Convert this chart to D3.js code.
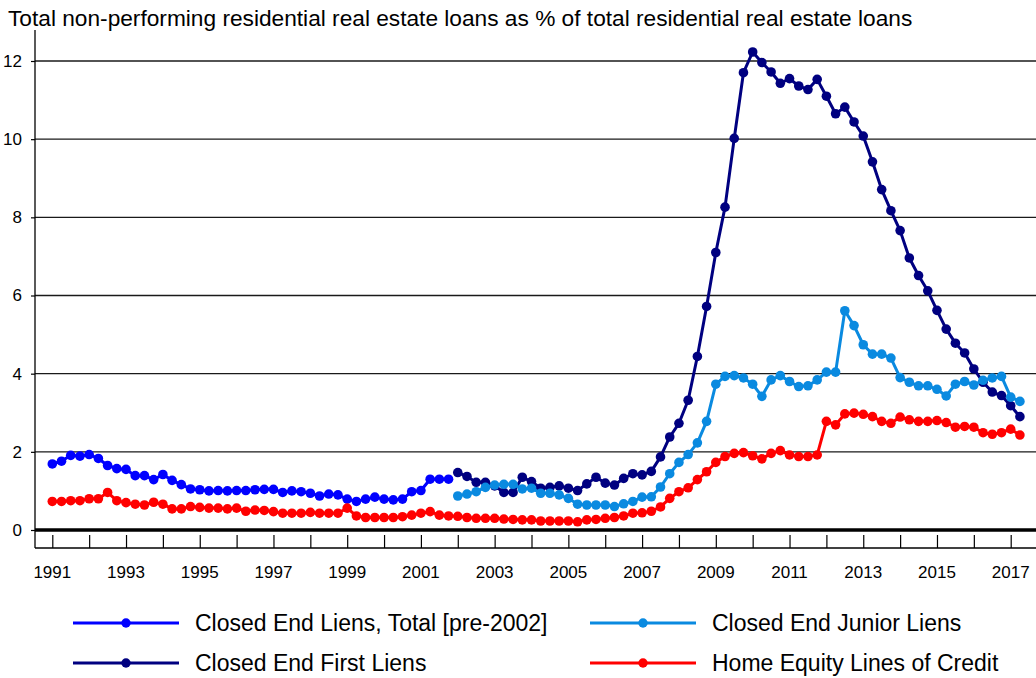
<!DOCTYPE html>
<html>
<head>
<meta charset="utf-8">
<script src="https://cdn.jsdelivr.net/npm/d3@7"></script>
<style>
  html, body { margin: 0; padding: 0; background: #fff; }
  svg { display: block; font-family: "Liberation Sans", Arial, Helvetica, sans-serif; }
</style>
</head>
<body>
<svg id="chart" width="1036" height="678"></svg>
<script>
// ---------- DATA (quarterly, % of total residential real estate loans) ----------
const titleText = "Total non-performing residential real estate loans as % of total residential real estate loans";

// Closed End Liens, Total [pre-2002]: 1991 Q1 .. 2001 Q4
const closedTotalStart = 1991;
const closedTotal = [
  1.69, 1.76, 1.91, 1.89,
  1.93, 1.83, 1.65, 1.57,
  1.55, 1.39, 1.39, 1.29,
  1.42, 1.27, 1.16, 1.05,
  1.03, 1.00, 1.01, 1.00,
  1.01, 1.01, 1.03, 1.04,
  1.04, 0.96, 1.00, 0.98,
  0.94, 0.87, 0.92, 0.90,
  0.79, 0.73, 0.79, 0.84,
  0.79, 0.77, 0.79, 0.98,
  1.01, 1.30, 1.30, 1.30
];

// Closed End First Liens: 2002 Q1 .. 2017 Q2
const firstLiensStart = 2002;
const firstLiens = [
  1.47, 1.37, 1.22, 1.22,
  1.13, 0.96, 0.96, 1.35,
  1.24, 1.07, 1.09, 1.13,
  1.07, 1.01, 1.18, 1.35,
  1.20, 1.15, 1.32, 1.44,
  1.41, 1.50, 1.87, 2.38,
  2.73, 3.32, 4.44, 5.72,
  7.10, 8.26, 10.02, 11.70,
  12.23, 11.96, 11.72, 11.43,
  11.55, 11.36, 11.27, 11.53,
  11.10, 10.65, 10.82, 10.44,
  10.08, 9.42, 8.71, 8.17,
  7.66, 6.96, 6.51, 6.12,
  5.62, 5.14, 4.78, 4.53,
  4.12, 3.78, 3.53, 3.44,
  3.18, 2.90
];

// Closed End Junior Liens: 2002 Q1 .. 2017 Q2
const juniorLiensStart = 2002;
const juniorLiens = [
  0.87, 0.92, 0.98, 1.09,
  1.15, 1.17, 1.17, 1.05,
  1.07, 0.94, 0.94, 0.90,
  0.81, 0.66, 0.64, 0.64,
  0.64, 0.60, 0.67, 0.73,
  0.84, 0.85, 1.10, 1.44,
  1.73, 1.93, 2.23, 2.78,
  3.73, 3.93, 3.95, 3.89,
  3.73, 3.42, 3.84, 3.95,
  3.80, 3.67, 3.69, 3.84,
  4.04, 4.04, 5.61, 5.23,
  4.74, 4.50, 4.50, 4.40,
  3.90, 3.78, 3.69, 3.69,
  3.60, 3.43, 3.73, 3.80,
  3.71, 3.83, 3.89, 3.93,
  3.40, 3.29
];

// Home Equity Lines of Credit: 1991 Q1 .. 2017 Q2
const helocStart = 1991;
const heloc = [
  0.73, 0.73, 0.75, 0.75,
  0.80, 0.80, 0.96, 0.75,
  0.70, 0.66, 0.64, 0.71,
  0.66, 0.54, 0.54, 0.60,
  0.58, 0.56, 0.56, 0.54,
  0.56, 0.48, 0.51, 0.50,
  0.47, 0.43, 0.43, 0.43,
  0.45, 0.43, 0.43, 0.43,
  0.56, 0.36, 0.32, 0.32,
  0.32, 0.32, 0.34, 0.38,
  0.43, 0.47, 0.38, 0.36,
  0.35, 0.32, 0.30, 0.30,
  0.30, 0.28, 0.27, 0.26,
  0.26, 0.23, 0.23, 0.23,
  0.23, 0.21, 0.26, 0.27,
  0.30, 0.32, 0.36, 0.43,
  0.44, 0.48, 0.59, 0.81,
  0.98, 1.08, 1.29, 1.49,
  1.73, 1.88, 1.96, 1.98,
  1.90, 1.82, 1.96, 2.03,
  1.92, 1.88, 1.88, 1.92,
  2.78, 2.69, 2.97, 2.99,
  2.96, 2.90, 2.78, 2.73,
  2.89, 2.82, 2.78, 2.78,
  2.80, 2.75, 2.63, 2.65,
  2.63, 2.49, 2.45, 2.49,
  2.58, 2.43
];

const seriesNames = [
  "Closed End Liens, Total [pre-2002]",
  "Closed End First Liens",
  "Closed End Junior Liens",
  "Home Equity Lines of Credit"
];
const seriesColors = ["#0000ff", "#000080", "#0a8ae0", "#ff0000"];

const yTicks = [0, 2, 4, 6, 8, 10, 12];
const xTickYears = d3.range(1991, 2018);
const xLabelYears = [1991, 1993, 1995, 1997, 1999, 2001, 2003, 2005, 2007, 2009, 2011, 2013, 2015, 2017];

// ---------- BUILD ----------
function toPoints(start, values) {
  return values.map((v, i) => ({ t: start + i / 4, v: v }));
}
const series = [
  { name: seriesNames[0], color: seriesColors[0], pts: toPoints(closedTotalStart, closedTotal) },
  { name: seriesNames[1], color: seriesColors[1], pts: toPoints(firstLiensStart, firstLiens) },
  { name: seriesNames[2], color: seriesColors[2], pts: toPoints(juniorLiensStart, juniorLiens) },
  { name: seriesNames[3], color: seriesColors[3], pts: toPoints(helocStart, heloc) }
];

const W = 1036, H = 678;
const axisX = 35, axisTop = 30, axisBottom = 548, rightEdge = W;

const x = d3.scaleLinear().domain([1991, 2017]).range([52.3, 1010.7]);
const y = d3.scaleLinear().domain([0, 12]).range([530, 61]);

const svg = d3.select("#chart");

// Title
svg.append("text")
  .attr("x", 8).attr("y", 26)
  .attr("font-size", 22.7)
  .attr("fill", "#000")
  .text(titleText);

// Gridlines (non-zero)
svg.append("g").selectAll("line")
  .data(yTicks.filter(d => d !== 0))
  .join("line")
  .attr("x1", axisX).attr("x2", rightEdge)
  .attr("y1", d => y(d)).attr("y2", d => y(d))
  .attr("stroke", "#1a1a1a").attr("stroke-width", 1.3);

// Y axis via d3.axisLeft
const yAxis = d3.axisLeft(y).tickValues(yTicks).tickSize(4).tickPadding(9).tickFormat(d3.format("d"));
const gy = svg.append("g").attr("transform", `translate(${axisX},0)`).call(yAxis);
gy.select(".domain").remove();
gy.selectAll(".tick line").attr("stroke", "#000").attr("stroke-width", 1.2);
gy.selectAll(".tick text").attr("font-size", 17).attr("fill", "#000")
  .attr("font-family", "Liberation Sans, Arial, sans-serif");
svg.append("line")
  .attr("x1", axisX).attr("x2", axisX).attr("y1", axisTop).attr("y2", axisBottom)
  .attr("stroke", "#000").attr("stroke-width", 1.3);

// X axis: bottom line with ticks pointing up
const xAxis = d3.axisTop(x).tickValues(xTickYears).tickSize(13).tickFormat("");
const gx = svg.append("g").attr("transform", `translate(0,${axisBottom})`).call(xAxis);
gx.select(".domain").remove();
gx.selectAll(".tick line").attr("stroke", "#000").attr("stroke-width", 1.2);
svg.append("line")
  .attr("x1", axisX).attr("x2", rightEdge).attr("y1", axisBottom).attr("y2", axisBottom)
  .attr("stroke", "#000").attr("stroke-width", 1.3);

svg.append("g").selectAll("text")
  .data(xLabelYears)
  .join("text")
  .attr("x", d => x(d)).attr("y", 578)
  .attr("text-anchor", "middle")
  .attr("font-size", 17).attr("fill", "#000")
  .text(d => d);

// Zero line (thick)
svg.append("line")
  .attr("x1", axisX).attr("x2", rightEdge).attr("y1", y(0)).attr("y2", y(0))
  .attr("stroke", "#000").attr("stroke-width", 3.5);

// Series
const line = d3.line().x(d => x(d.t)).y(d => y(d.v));
const gS = svg.append("g");
series.forEach(s => {
  const g = gS.append("g");
  g.append("path").datum(s.pts)
    .attr("d", line).attr("fill", "none")
    .attr("stroke", s.color).attr("stroke-width", 3).attr("stroke-linejoin", "round");
  g.selectAll("circle").data(s.pts).join("circle")
    .attr("cx", d => x(d.t)).attr("cy", d => y(d.v)).attr("r", 4.8)
    .attr("fill", s.color);
});

// Legend
const legendItems = [
  { s: series[0], col: 0, row: 0 },
  { s: series[2], col: 1, row: 0 },
  { s: series[1], col: 0, row: 1 },
  { s: series[3], col: 1, row: 1 }
];
const colX = [73, 590], rowY = [623, 663];
const lg = svg.append("g");
legendItems.forEach(it => {
  const x0 = colX[it.col], yy = rowY[it.row];
  lg.append("line").attr("x1", x0).attr("x2", x0 + 106).attr("y1", yy).attr("y2", yy)
    .attr("stroke", it.s.color).attr("stroke-width", 3);
  lg.append("circle").attr("cx", x0 + 53).attr("cy", yy).attr("r", 4.7).attr("fill", it.s.color);
  lg.append("text").attr("x", x0 + 122).attr("y", yy + 8)
    .attr("font-size", 23).attr("fill", "#000")
    .text(it.s.name);
});
</script>
</body>
</html>
